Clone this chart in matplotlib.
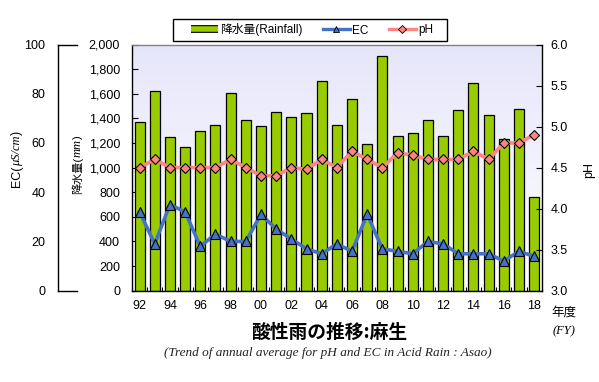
import numpy as np
import matplotlib
matplotlib.use('Agg')
import matplotlib.pyplot as plt
from matplotlib.lines import Line2D
from matplotlib.patches import Rectangle
import matplotlib.patheffects as pe

plt.rcParams['font.family'] = ['Liberation Sans', 'Noto Sans CJK JP', 'DejaVu Sans']

# ---- data ----
years = ['92', '93', '94', '95', '96', '97', '98', '99', '00', '01', '02', '03', '04', '05',
         '06', '07', '08', '09', '10', '11', '12', '13', '14', '15', '16', '17', '18']
rainfall = [1370, 1620, 1245, 1170, 1295, 1350, 1610, 1390, 1335, 1455, 1415, 1440, 1700, 1345,
            1560, 1195, 1905, 1255, 1280, 1390, 1255, 1470, 1690, 1430, 1235, 1480, 760]
ec = [32, 19, 35, 32, 18, 23, 20, 20, 31, 25, 21, 17, 15, 19,
      16, 31, 17, 16, 15, 20, 19, 15, 15, 15, 12, 16, 14]
ph = [4.5, 4.6, 4.5, 4.5, 4.5, 4.5, 4.6, 4.5, 4.4, 4.4, 4.5, 4.48, 4.6, 4.5,
      4.7, 4.6, 4.5, 4.68, 4.65, 4.6, 4.6, 4.6, 4.7, 4.6, 4.8, 4.8, 4.9]
rain_ticks = [0, 200, 400, 600, 800, 1000, 1200, 1400, 1600, 1800, 2000]
ec_ticks = [0, 20, 40, 60, 80, 100]
ph_ticks = [3.0, 3.5, 4.0, 4.5, 5.0, 5.5, 6.0]

BAR = '#99CC00'
ECC = '#4472C4'
PHC = '#FF8585'

W_PX, H_PX = 599, 382
fig = plt.figure(figsize=(W_PX / 100, H_PX / 100), dpi=100)

def fx(px):
    return px / W_PX

def fy(py):
    return 1 - py / H_PX

L, R, T, Bm = 132, 541.7, 44.5, 290.7
pos = [fx(L), fy(Bm), fx(R) - fx(L), fy(T) - fy(Bm)]

ax = fig.add_axes(pos)
ax.patch.set_visible(False)
x = np.arange(len(years))

# gradient background
grad = np.linspace(0, 1, 256).reshape(-1, 1)
top = np.array([230, 230, 250]) / 255
bot = np.array([255, 255, 255]) / 255
img = top[None, None, :] * (1 - grad[:, :, None]) + bot[None, None, :] * grad[:, :, None]
ax.imshow(img, extent=[0, 1, 0, 1], transform=ax.transAxes, aspect='auto', zorder=0)

ax.bar(x, rainfall, width=0.66, color=BAR, edgecolor='black', linewidth=0.9, zorder=2)
ax.set_xlim(-0.5, len(years) - 0.5)
ax.set_ylim(0, 2000)
ax.set_yticks(rain_ticks)
ax.set_yticklabels([f'{v:,}' for v in rain_ticks])
ax.set_xticks(x[::2])
ax.set_xticklabels(years[::2])
ax.set_xticks(np.arange(-0.5, len(years), 1), minor=True)
ax.tick_params(axis='x', which='major', length=0, pad=7, labelsize=9)
ax.tick_params(axis='x', which='minor', direction='in', length=3, width=0.8, color='black')
ax.tick_params(axis='y', which='major', direction='in', length=4, width=0.8, pad=8.6, labelsize=9)
ax.spines['top'].set_color('#808080')
ax.spines['right'].set_visible(False)
for s in ['left', 'bottom', 'top']:
    ax.spines[s].set_linewidth(1.0)

# EC on hidden 0-100 scale
ax2 = ax.twinx()
ax2.set_ylim(0, 100)
ax2.plot(x, ec, color=ECC, lw=2.6, marker='^', ms=7.5, mfc=ECC, mec='black', mew=0.8, zorder=3)
ax2.set_yticks([])
for s in ax2.spines.values():
    s.set_visible(False)

# pH on right axis
ax3 = ax.twinx()
ax3.set_ylim(3.0, 6.0)
ax3.plot(x, ph, color=PHC, lw=2.6, marker='D', ms=5.5, mfc=PHC, mec='black', mew=0.8, zorder=4)
ax3.set_yticks(ph_ticks)
ax3.set_yticklabels([f'{v:.1f}' for v in ph_ticks])
ax3.tick_params(axis='y', direction='in', length=4, width=0.8, pad=6.5, labelsize=9)
for s in ['left', 'top', 'bottom']:
    ax3.spines[s].set_visible(False)
ax3.spines['right'].set_linewidth(1.0)
ax3.spines['right'].set_color('black')

# decorative EC axis bracket
axe = fig.add_axes([fx(58.3), fy(Bm), fx(77) - fx(58.3), fy(T) - fy(Bm)])
axe.patch.set_visible(False)
axe.set_ylim(0, 100)
axe.set_yticks(ec_ticks)
axe.set_xticks([])
axe.tick_params(axis='y', length=0, pad=9.4, labelsize=9)
axe.spines['right'].set_visible(False)
for s in ['left', 'top', 'bottom']:
    axe.spines[s].set_linewidth(1.0)

# axis labels (composite, rotated)
t1 = fig.text(fx(17), fy(187), 'EC(', rotation=90, ha='center', va='bottom', fontsize=9)
ann2 = ax.annotate('μS/cm', xy=(0.5, 1), xycoords=t1, ha='center', va='bottom', rotation=90,
                   fontsize=9, family='Liberation Serif', style='italic', annotation_clip=False)
ann3 = ax.annotate(')', xy=(0.5, 1), xycoords=ann2, ha='center', va='bottom', rotation=90,
                   fontsize=9, annotation_clip=False)

r1 = fig.text(fx(77.5), fy(194), '降水量(', rotation=90, ha='center', va='bottom', fontsize=8)
r2 = ax.annotate('mm', xy=(0.5, 1), xycoords=r1, ha='center', va='bottom', rotation=90,
                 fontsize=9, family='Liberation Serif', style='italic', annotation_clip=False)
r3 = ax.annotate(')', xy=(0.5, 1), xycoords=r2, ha='center', va='bottom', rotation=90,
                 fontsize=8, annotation_clip=False)

fig.text(fx(589), fy(170), 'pH', rotation=90, ha='center', va='center', fontsize=9)
fig.text(fx(564), fy(313), '年度', ha='center', va='center', fontsize=9)
fig.text(fx(564), fy(331), '(FY)', ha='center', va='center', fontsize=9,
         family='Liberation Serif', style='italic')

fig.text(fx(328.7), fy(332), '酸性雨の推移:麻生', ha='center', va='center', fontsize=13.5,
         fontweight='bold', family=['Noto Sans CJK JP', 'DejaVu Sans'])
fig.text(fx(327.7), fy(353), '(Trend of annual average for pH and EC in Acid Rain : Asao)',
         ha='center', va='center', fontsize=9.5, family='Liberation Serif', style='italic',
         color='#222222')

# legend
h_bar = Line2D([0], [0], color=BAR, lw=4, solid_capstyle='butt',
               path_effects=[pe.Stroke(linewidth=5.6, foreground='black'), pe.Normal()])
h_ec = Line2D([0], [0], color=ECC, lw=2.4, marker='^', ms=5, mfc=ECC, mec='black', mew=0.6)
h_ph = Line2D([0], [0], color=PHC, lw=2.4, marker='D', ms=4, mfc=PHC, mec='black', mew=0.6)
leg = fig.legend([h_bar, h_ec, h_ph], ['降水量(Rainfall)', 'EC', 'pH'], ncol=3,
                 loc='center', bbox_to_anchor=(fx(312), fy(30)), frameon=False,
                 fontsize=8.5, handlelength=2.3, handletextpad=0.2,
                 columnspacing=1.7, borderpad=0.3, borderaxespad=0)
fig.patches.append(Rectangle((fx(172.5), fy(40.7)), fx(447.3) - fx(172.5), fy(19.3) - fy(40.7),
                             transform=fig.transFigure, fill=False, edgecolor='black',
                             linewidth=1.0, figure=fig))

fig.savefig('out.png', dpi=100)
